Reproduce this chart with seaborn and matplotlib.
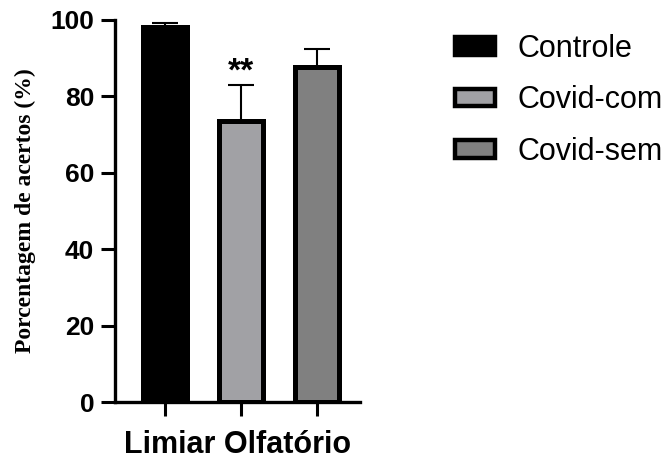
import matplotlib
matplotlib.use("Agg")
import matplotlib.pyplot as plt
from matplotlib.patches import Patch
import seaborn as sns
import pandas as pd

groups = ["Controle", "Covid-com", "Covid-sem"]
means = [98.1, 73.6, 87.6]
err_upper = [1.0, 9.3, 4.8]
colors = ["#000000", "#A1A1A5", "#808080"]
yticks = [0, 20, 40, 60, 80, 100]
xlabel = "Limiar Olfatório"
ylabel = "Porcentagem de acertos (%)"
signif = "**"

sns.set_style("ticks", {"axes.edgecolor": "black", "text.color": "black",
                        "axes.labelcolor": "black", "xtick.color": "black",
                        "ytick.color": "black"})
plt.rcParams["font.family"] = ["Liberation Sans", "DejaVu Sans"]

df = pd.DataFrame({"group": groups, "value": means})

fig = plt.figure(figsize=(6.68, 4.61), dpi=100)
ax = fig.add_axes([115 / 668, 59 / 461, 245 / 668, 382 / 461])

sns.barplot(data=df, x="group", y="value", hue="group", palette=colors,
            order=groups, hue_order=groups, width=0.59, errorbar=None,
            edgecolor="black", linewidth=3.6, legend=False, ax=ax, zorder=2)

xs = list(range(len(groups)))
ax.errorbar(xs, means, yerr=[[0] * len(groups), err_upper], fmt="none",
            ecolor="black", elinewidth=1.5, capsize=9.5, capthick=1.5, zorder=1)

ax.text(1, means[1] + err_upper[1] + 1.2, signif, ha="center", va="baseline",
        fontsize=24, fontweight="bold", color="black")

ax.set_xlim(-0.658, 2.566)
ax.set_ylim(0, 100)
ax.set_yticks(yticks)
ax.set_yticklabels([str(t) for t in yticks], fontsize=19, fontweight="bold")
ax.set_xticks(xs)
ax.set_xticklabels([""] * len(groups))
ax.tick_params(axis="y", length=10, width=2.2, pad=5)
ax.tick_params(axis="x", length=10, width=2.2)
for s in ["left", "bottom"]:
    ax.spines[s].set_linewidth(2.4)
sns.despine(ax=ax)

ax.set_xlabel(xlabel, fontsize=22, fontweight="bold", labelpad=7)
ax.set_ylabel(ylabel, fontsize=17, fontweight="bold",
              family=["Liberation Serif", "DejaVu Serif"], labelpad=10)

handles = [Patch(facecolor=c, edgecolor="black", linewidth=3.2) for c in colors]
fig.legend(handles, groups, loc="upper left", bbox_to_anchor=(455 / 668, 1 - 34 / 461),
           frameon=False, fontsize=22, handlelength=1.3, handleheight=0.5,
           handletextpad=0.75, labelspacing=0.7, borderpad=0, borderaxespad=0)

fig.savefig("out.png", dpi=100)
